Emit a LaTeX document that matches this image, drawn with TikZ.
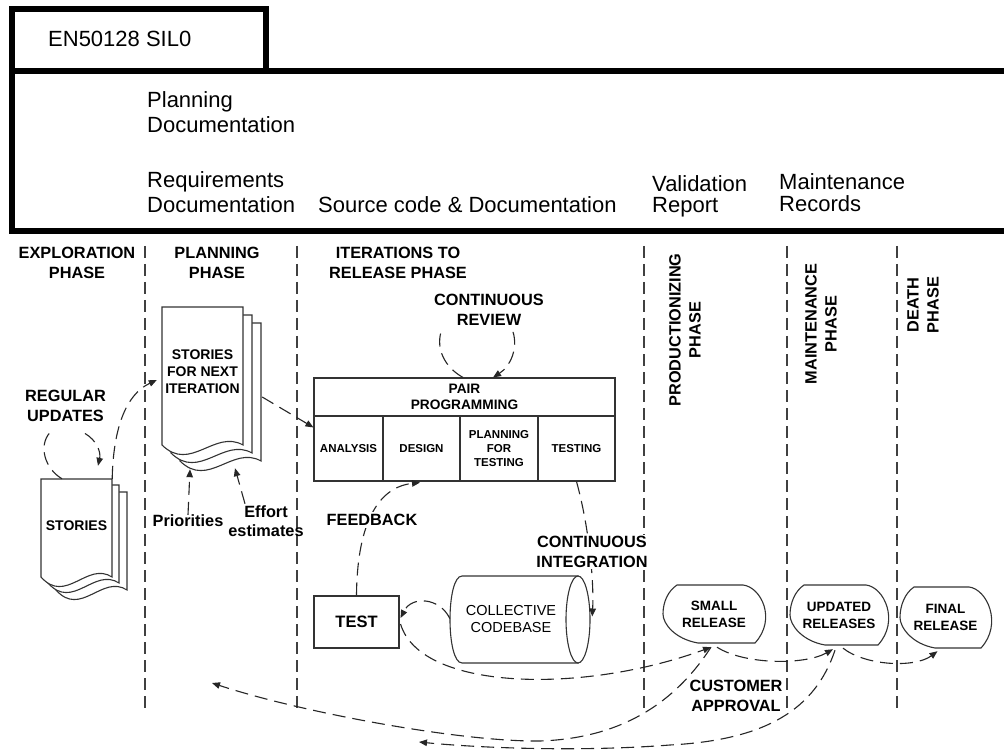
\documentclass[tikz,border=0pt]{standalone}
\usepackage{fontspec}
\setmainfont{Liberation Sans}
\usetikzlibrary{arrows.meta,calc}

% one sheet of a stacked document: top-left corner, width, height; wavy lower edge
\newcommand\docsheet[4]{%
  \filldraw[sheetline] (#1,#2) -- ({#1+#3},#2) -- ({#1+#3},{#2+#4})
    .. controls ({#1+0.65*#3},{#2+#4-16}) and ({#1+0.35*#3},{#2+#4+28}) .. (#1,{#2+#4}) -- cycle;}

% release outline: left, top, right, bottom
\newcommand\relshape[4]{%
  \filldraw[sheetline] ({#1+14},#2) -- ({#3-22},#2)
    .. controls ({#3-4},{#2+2}) and ({#3+12},{#4-24}) .. ({#3-10},#4)
    -- ({#1+35},#4)
    .. controls ({#1+12},{#4-4}) and (#1,{(#2+#4)/2+10}) .. (#1,{(#2+#4)/2})
    .. controls (#1,{(#2+#4)/2-12}) and ({#1+5},{#2+6}) .. ({#1+14},#2) -- cycle;}

\begin{document}
\begin{tikzpicture}[x=1pt,y=-1pt,
  heavy/.style={line width=5.5pt, line join=miter, draw=black},
  sheetline/.style={draw=black!80, line width=1.1pt, fill=white},
  cellbox/.style={draw=black!80, line width=1.1pt, fill=white, inner sep=1pt, align=center},
  phaseline/.style={draw=black!75, line width=1.2pt, dash pattern=on 12pt off 6pt},
  flow/.style={draw=black!85, line width=1.1pt, dash pattern=on 13pt off 7pt},
  arrowend/.style={-{Triangle[length=8pt,width=6.5pt]}},
  hdrtext/.style={font=\fontsize{22}{25}\selectfont, inner sep=0pt, align=left},
  lbl/.style={font=\fontsize{16.3}{20}\selectfont\bfseries, inner sep=0pt, align=center},
  doctext/.style={font=\fontsize{14}{17}\selectfont\bfseries, inner sep=0pt, align=center},
  reltext/.style={font=\fontsize{13.5}{17}\selectfont\bfseries, inner sep=0pt, align=center},
  plaintext/.style={font=\fontsize{14.5}{17}\selectfont, inner sep=0pt, align=center},
]
\useasboundingbox (0,0) rectangle (1004,751);
\fill[white] (0,0) rectangle (1004,751);

% ---- header band ----
\draw[heavy] (266,71) -- (266,9) -- (12,9) -- (12,231) -- (1004,231);
\draw[heavy] (12,71) -- (1004,71);
\node[hdrtext, anchor=base west] (sil) at (48,47) {EN50128 SIL0};
\node[hdrtext, anchor=west] (plandoc) at (147,112.5) {Planning\\Documentation};
\node[hdrtext, anchor=west] (reqdoc) at (147,192) {Requirements\\Documentation};
\node[hdrtext, anchor=base west] (srcdoc) at (318,213) {Source code \& Documentation};
\node[hdrtext, anchor=west, font=\fontsize{22}{21}\selectfont] (valrep) at (652,196.5) {Validation\\Report};
\node[hdrtext, anchor=west, font=\fontsize{22}{22}\selectfont] (mainrec) at (779,193) {Maintenance\\Records};

% ---- phase separators ----
\foreach \px in {145,297,644,787,897}
  \draw[phaseline] (\px,246) -- (\px,709);

% ---- phase titles ----
\node[lbl] (explore) at (77,263) {EXPLORATION\\PHASE};
\node[lbl] (planning) at (217,263) {PLANNING\\PHASE};
\node[lbl] (iterate) at (398,262.5) {ITERATIONS TO\\RELEASE PHASE};
\node[lbl, rotate=90] (produce) at (685,330) {PRODUCTIONIZING\\PHASE};
\node[lbl, rotate=90] (maintain) at (821,324) {MAINTENANCE\\PHASE};
\node[lbl, rotate=90] (death) at (923,305) {DEATH\\PHASE};

% ---- document stacks ----
\docsheet{56}{492}{71}{98}
\docsheet{48}{485}{71}{98}
\docsheet{41}{479}{71}{98}
\node[doctext, minimum width=71pt, minimum height=93pt] (stories) at (76.5,525.5) {STORIES};

\docsheet{180}{323}{81}{138}
\docsheet{171}{315}{81}{138}
\docsheet{162}{307}{81}{138}
\node[doctext, minimum width=81pt, minimum height=130pt] (nextiter) at (202.5,372) {STORIES\\FOR NEXT\\ITERATION};

% ---- pair programming block ----
\node[cellbox, minimum width=301pt, minimum height=38pt, font=\fontsize{13.7}{16}\selectfont\bfseries] (pair) at (464.5,397) {PAIR\\PROGRAMMING};
\begin{scope}[every node/.append style={font=\fontsize{11.5}{14}\selectfont\bfseries, minimum height=65pt}]
\node[cellbox, minimum width=69pt] (analysis) at (348.5,448.5) {ANALYSIS};
\node[cellbox, minimum width=77pt] (design) at (421.5,448.5) {DESIGN};
\node[cellbox, minimum width=78pt] (pft) at (499,448.5) {PLANNING\\FOR\\TESTING};
\node[cellbox, minimum width=77pt] (testing) at (576.5,448.5) {TESTING};
\end{scope}

% ---- test box and collective codebase ----
\node[cellbox, minimum width=85pt, minimum height=52pt, font=\fontsize{16.5}{20}\selectfont\bfseries] (test) at (356.5,622) {TEST};

\filldraw[sheetline] (462,576) -- (578,576) -- (578,663) -- (462,663)
  .. controls (446,663) and (446,576) .. (462,576) -- cycle;
\filldraw[sheetline] (578,619.5) ellipse [x radius=12, y radius=43.5];
\node[inner sep=0pt, minimum width=140pt, minimum height=87pt] (codebase) at (520,619.5) {};
\node[plaintext] (codetext) at (511,619) {COLLECTIVE\\CODEBASE};

% ---- releases ----
\relshape{663}{585}{765}{643}
\relshape{790}{585}{888}{645}
\relshape{900}{587}{991}{648}
\node[reltext, minimum width=102pt, minimum height=58pt] (small) at (714,614) {SMALL\\RELEASE};
\node[reltext, minimum width=98pt, minimum height=60pt] (updated) at (839,615) {UPDATED\\RELEASES};
\node[reltext, minimum width=91pt, minimum height=61pt] (final) at (945.5,617.5) {FINAL\\RELEASE};

% ---- free labels ----
\node[lbl] (regular) at (65.5,405.5) {REGULAR\\UPDATES};
\node[lbl] (review) at (489,310) {CONTINUOUS\\REVIEW};
\node[lbl] (prio) at (188,521) {Priorities};
\node[lbl, font=\fontsize{16.3}{19}\selectfont\bfseries] (effort) at (266,521.5) {Effort\\estimates};
\node[lbl] (customer) at (736,695.5) {CUSTOMER\\APPROVAL};

\coordinate (backplan) at (212,683);
\coordinate (backiter) at (419,742);

% ---- connectors ----
% stories feed the next iteration
\draw[flow, arrowend] (stories.north east)
  .. controls ($(stories.north east)+(1,-49)$) and ($(stories.north east)+(13,-84)$) .. ($(nextiter.west)+(-5,8)$);
% regular updates loop
\draw[flow] ($(stories.north)+(-14.5,0)$)
  .. controls ($(stories.north)+(-31.5,-10)$) and ($(stories.north)+(-38.5,-33)$) .. ($(regular.south)+(-15.5,11)$);
\draw[flow, arrowend] ($(regular.south)+(19.5,12)$)
  .. controls ($(regular.south)+(31.5,19)$) and ($(regular.south)+(35.5,31)$) .. ($(stories.north)+(21.5,-13)$);
% next iteration into pair programming
\draw[flow, arrowend] ($(nextiter.east)+(19,25)$) -- ($(analysis.north west)+(0,12)$);
% priorities and effort estimates
\draw[flow, arrowend] (prio.north) -- ($(nextiter.south)+(-12.5,32)$);
\draw[flow, arrowend] ($(effort.north)+(-21,-2)$) -- ($(nextiter.south)+(32.5,31)$);
% continuous review loop
\draw[flow] ($(pair.north)+(-1.5,0)$)
  .. controls ($(pair.north)+(-19.5,-10)$) and ($(pair.north)+(-28.5,-28)$) .. ($(review.south)+(-48,6)$);
\draw[flow, arrowend] ($(review.south)+(24,6)$)
  .. controls ($(review.south)+(29,22)$) and ($(review.south)+(22,40)$) .. ($(pair.north)+(28.5,0)$);
% feedback from test to design
\draw[flow, arrowend] (test.north)
  .. controls ($(test.north)+(0.5,-66)$) and ($(test.north)+(18.5,-108)$) .. ($(design.south)+(-1.5,1)$);
% continuous integration into the codebase
\draw[flow, arrowend] (testing.south)
  .. controls ($(testing.south)+(13.5,49)$) and ($(testing.south)+(17.5,104)$) .. ($(codebase.east)+(2,-3)$);
% codebase to test
\draw[flow, arrowend] ($(codebase.west)+(0,-1)$)
  .. controls ($(codebase.west)+(-10,-22)$) and ($(codebase.west)+(-38,-24)$) .. ($(test.east)+(1,-4)$);
% test to the releases
\draw[flow, arrowend] ($(test.east)+(1,2)$) .. controls (420,690) and (580,695) .. ($(small.south)+(-3,4)$);
\draw[flow, arrowend] ($(small.south)+(3,4)$) .. controls (745,665) and (805,665) .. ($(updated.south)+(-6,4)$);
\draw[flow, arrowend] ($(updated.south)+(4,3)$) .. controls (866,666) and (915,668) .. ($(final.south)+(-8,3)$);
% customer approval back to planning and iterations
\draw[flow, arrowend] ($(small.south)+(-3,4)$) .. controls (680,695) and (630,738) .. (540,741)
  .. controls (460,742) and (300,712) .. (backplan);
\draw[flow, arrowend] ($(updated.south)+(-4,5)$) .. controls (815,710) and (765,740) .. (670,745)
  .. controls (580,752) and (480,748) .. (backiter);

% labels that sit on top of their connectors
\node[lbl, fill=white, inner sep=2pt] (feedback) at (372,520) {FEEDBACK};
\node[lbl, fill=white, inner sep=1pt] (integration) at (592,552) {CONTINUOUS\\INTEGRATION};
\end{tikzpicture}
\end{document}
